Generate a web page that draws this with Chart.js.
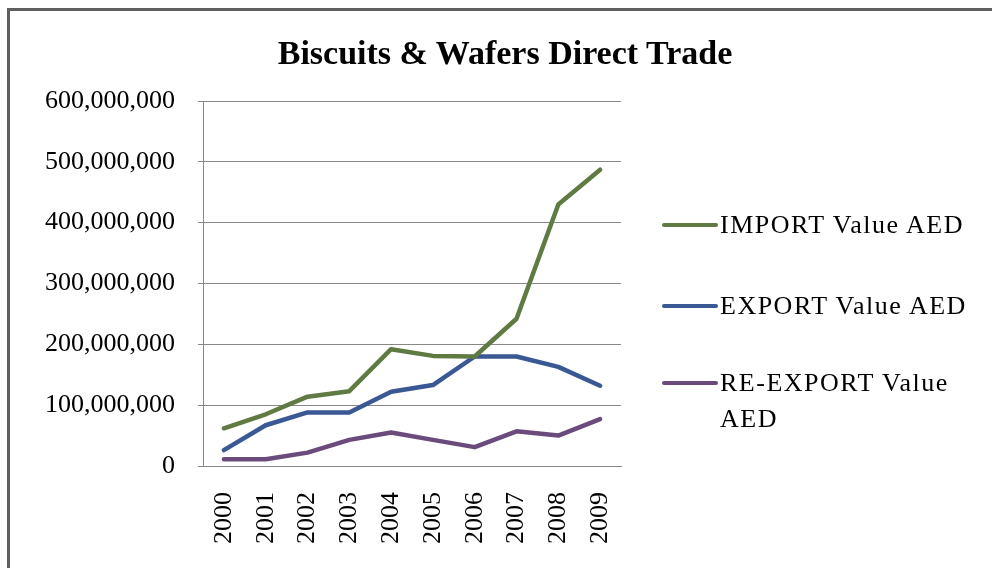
<!DOCTYPE html>
<html>
<head>
<meta charset="utf-8">
<script src="https://cdn.jsdelivr.net/npm/chart.js@4/dist/chart.umd.min.js"></script>
<style>
  html, body { margin: 0; padding: 0; background: #fff; overflow: hidden; }
  #wrap { position: relative; width: 992px; height: 568px; overflow: hidden; }
  .frameTop { position: absolute; left: 7px; top: 8px; width: 985px; height: 3px; background: #5f5f5f; }
  .frameLeft { position: absolute; left: 7px; top: 8px; width: 3px; height: 560px; background: #5f5f5f; }
  #title { position: absolute; left: 0; width: 1010px; top: 34px; height: 34px; line-height: 34px;
           text-align: center; font: bold 34px "Liberation Serif", serif; color: #000; }
  #legend { position: absolute; left: 662px; top: 0; width: 330px; height: 568px; }
  .item { position: absolute; left: 0; width: 330px; display: flex; align-items: flex-start; }
  .swatch { flex: 0 0 56px; height: 4px; margin-top: 16px; margin-right: 2px; border-radius: 2px; }
  .text { flex: 0 0 260px; width: 260px; font: 26px "Liberation Serif", serif; letter-spacing: 1.5px;
          line-height: 36px; color: #000; }
</style>
</head>
<body>
<div id="wrap">
  <canvas id="tradeChart" width="992" height="568"></canvas>
  <div class="frameTop"></div>
  <div class="frameLeft"></div>
  <div id="title">Biscuits &amp; Wafers Direct Trade</div>
  <div id="legend"></div>
</div>
<script>
// data
const years = ["2000", "2001", "2002", "2003", "2004", "2005", "2006", "2007", "2008", "2009"];
const importValue = [62000000, 85000000, 114000000, 123000000, 192000000, 181000000, 180000000, 242000000, 430000000, 487000000];
const exportValue = [26000000, 67000000, 88000000, 88000000, 122000000, 133000000, 180000000, 180000000, 163000000, 132000000];
const reExportValue = [11000000, 11000000, 22000000, 43000000, 55000000, 43000000, 31000000, 57000000, 50000000, 77000000];
const yTicks = [0, 100000000, 200000000, 300000000, 400000000, 500000000, 600000000];

const seriesNames = ["IMPORT Value AED", "EXPORT Value AED", "RE-EXPORT Value AED"];
const seriesColors = ["#5f7a43", "#3a5893", "#6b4b7c"];

const ctx = document.getElementById("tradeChart");
const gridColor = "#888888";

const chart = new Chart(ctx, {
  type: "line",
  data: {
    labels: years,
    datasets: [importValue, exportValue, reExportValue].map((vals, i) => ({
      label: seriesNames[i],
      data: vals,
      borderColor: seriesColors[i],
      backgroundColor: seriesColors[i],
      borderWidth: 4.5,
      pointRadius: 0,
      tension: 0,
      borderCapStyle: "round",
      borderJoinStyle: "round",
    })),
  },
  options: {
    responsive: false,
    animation: false,
    layout: { padding: { top: 101, right: 371, bottom: 0, left: 0 } },
    plugins: {
      legend: { display: false },
      title: { display: false },
      tooltip: { enabled: false },
    },
    scales: {
      x: {
        offset: true,
        grid: { display: false, drawTicks: false },
        border: { display: true, color: gridColor, width: 1 },
        ticks: {
          color: "#000",
          font: { family: "'Liberation Serif', serif", size: 26 },
          minRotation: 90,
          maxRotation: 90,
          padding: 26,
        },
        afterFit: (scale) => { scale.height = 102; },
      },
      y: {
        min: 0,
        max: 600000000,
        afterBuildTicks: (scale) => { scale.ticks = yTicks.map((v) => ({ value: v })); },
        grid: { color: gridColor, lineWidth: 1, tickLength: 5, drawTicks: true },
        border: { display: true, color: gridColor, width: 1 },
        ticks: {
          color: "#000",
          font: { family: "'Liberation Serif', serif", size: 26 },
          padding: 23,
          callback: (v) => Number(v).toLocaleString("en-US"),
        },
        afterFit: (scale) => { scale.width = 203; },
      },
    },
  },
});

// legend
const legend = document.getElementById("legend");
const legendTops = [207, 288, 365];
chart.data.datasets.forEach((ds, i) => {
  const item = document.createElement("div");
  item.className = "item";
  item.style.top = legendTops[i] + "px";
  const sw = document.createElement("div");
  sw.className = "swatch";
  sw.style.background = ds.borderColor;
  const tx = document.createElement("div");
  tx.className = "text";
  tx.textContent = ds.label;
  item.appendChild(sw);
  item.appendChild(tx);
  legend.appendChild(item);
});
</script>
</body>
</html>
